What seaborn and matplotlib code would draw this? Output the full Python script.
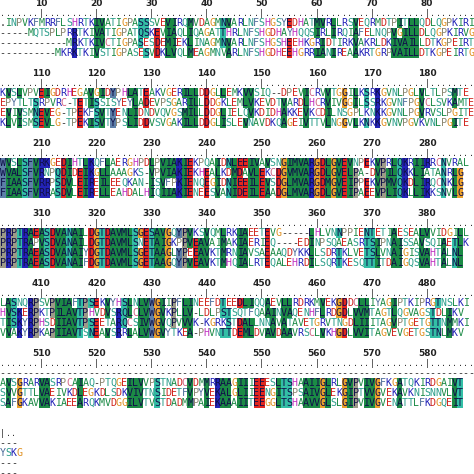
import numpy as np
import matplotlib
matplotlib.use("Agg")
import matplotlib.pyplot as plt
from matplotlib.colors import ListedColormap
import seaborn as sns

# ---- data: alignment blocks (4 sequences per block) ----
block1 = [".INPVKFMRRFLSHRTKIVATIGPASSSVEVIRQMVDAGMNVARLNFSHGSYEDHATMVRLLRSVEQRMDTPITLLQDLQGPKIRIG",
          "-----MQTSPLPRRTKIVATIGPATQSKEVIAQLIQAGATTHRLNFSHGDHAYHQQSIRLIRQIAFELNQPVGILLDLQGPKIRVG",
          "------------MRKTKIVCTIGPASESDEMIEKLINAGMNVARLNFSHGSHEEHKGRIDTIRKVAKRLDKIVAILLDTKGPEIRTG",
          "----------MKRKTKIVSTIGPASESVDKLVQLMEAGMNVARLNFSHGDHEEHGRRIANIREAAKRTGRPVAILLDTKGPEIRTG"]
block2 = ["KVSLVPVEIGDRHEGAVGIDYPHLATEAKVGERILLDDGLLEMKVVSIQ--DPEVICRVVTGGILKSRKGVNLPGLVLTLPSMTE",
          "EPYTLTSRPVRC-TETISSISYEYLADEVPSGARILLDDGKLEMLVKEVDTVARDLHCRVIVGGILSSRKGVNFPGVCLSVKAMTE",
          "EVIVSMNEVEG-TPEKFSVTYENLIDNDVQVGSMILLDDGLIELQVKDIDHAKKEVKCDILNSGPLKNKKGVNLPGVRVSLPGITE",
          "KLVISMSEVLG-TPEKISVTYPSLIDDVSVGAKILLDDGLISLEVNAVDKQAGEIVTTVLNGGVLKNKKGVNVPGVKVNLPGITE"]
block3 = ["WVSLSFVRKGEDIHTLKQFLAERGHPDLPVIAKIEKPQAIDNLEEIVAVSNGIMVARGDLGVEVNPEKVPRLQKRIIRRCNVRAL",
          "WVALSFVRNPQDIDEIKGLLAAAGKS-VPVIAKIEKHEALKDMDAVLEKCDGVMVARGDLGVELPA-DVPILQKKLIATANRLG",
          "FIAASFVRRPSDVLEIREILEEQKAN-ISVFPKIENQEGIDNIEEILEVSDGLMVARGDMGVEIPPEKVPMVQKDLIRQCNKLG",
          "FIAASFVRRASDVLEIRELLEAHDALHIQIIAKIENEESVANIDEILEAADGLMVARGDLGVEIPAEEVPLIQKLLIKKSNVLG"]
block4 = ["PRPTRAEASDVANAILDGTDAVMLSGESAVGQYPVKSVQMLRKIAEETEVG-----LHLVNNPPIENTETIAESEALVVIDGILL",
          "PRPTRAPVSDVANAILDGTDAVMLSNETAIGKPPVEAVAIMAKIAERIEQ----EDINPSQAEASRTSIPNAISSAVSQIAETLK",
          "PRPTRAEASDVANAIYDGTDAVMLSGETAAGLYPEEAVKTMRNIAVSAEAAQDYKKLLSDRTKLVETSLVNAIGISVAHTALNL",
          "PRPTRAEASDVANAIFDGTDAVMLSGETAAGQYPVEAVKTMHQIALRTEQALEHRDILSQRTKESQTTITDAIGQSVAHTALNL"]
block5 = ["LASNQRPSVPVIAFTPSEKVYHSLNLVWGIIPFLINEEFDTEEDLIQQAEVLLRDRKMVEKGDDCLLIYAGIPTKIPRGTNSLKI",
          "HVSKERPKTPILAVTPHVDVSRQLCLVWGVKPLLV-LDLPSTSQTFQAAINVAQENHFLRDGDLVVMTAGTLQGVAGSTDLIKV",
          "TISKYRPHSDIIAVTPSEETARQCSIVWGVQPVVVK-KGRKSTDALLNNAVATAVETGRVTNGDLIIITAGVPTGETGTTNMMKI",
          "VVAKYRPKAPIIAVTSNEAVSRRLALVWGVYTKEA-PHVNTTDEMLDVAVDAAVRSCLVKHGDLVVITAGVEVGETGSTNLMKV"]
block6 = ["-" * 86,
          "AVSGRARVASRPCAIAQ-PTQGEILVVPSTNADCVDMMRRAAGIIIEEESLTSHAAIIGLRLGVPVIVGFKGATQKIRDGAIVT",
          "SVVGTTLVAEIVKDLEGKDLSDKVIVTNSIDETFVPYVEKALGLIIEENGITSPSAIVGLEKGIPTVVGVEKAVKNISNNVLVT",
          "SAFGKAVVAKIAEEARQKMVDGGILVTVSTDADMMPAIEKAAAIITEEGGLTSHAAVVGLSLGIPVIVGVENATTLFKDGQEIT"]
block7 = ["---", "YSKG", "---", "---"]
blocks = [block1, block2, block3, block4, block5, block6, block7]
block_label_starts = [10, 110, 210, 310, 410, 510, None]

NCOL = 86
ROWS_PER_BLOCK = 7
LABEL_COL0 = 7

groups = {}
for aa in "ILVMA": groups[aa] = 1
for aa in "KR": groups[aa] = 2
for aa in "DE": groups[aa] = 3
for aa in "G": groups[aa] = 4
for aa in "NQST": groups[aa] = 5
for aa in "FWY": groups[aa] = 6
for aa in "P": groups[aa] = 7
for aa in "H": groups[aa] = 8
for aa in "C": groups[aa] = 9
bg_cols = ["#ffffff", "#1b8a45", "#2323b8", "#e3261f", "#eca22c", "#33bfa6",
           "#5d7fa8", "#9c9a88", "#e040d8", "#f08aa0"]
txt_cols = ["#222222", "#1b8a45", "#2323b8", "#d0221b", "#e09020", "#2a9e8a",
            "#4a6a98", "#8a8670", "#c030c0", "#d06080"]

nrows = ROWS_PER_BLOCK * len(blocks)
codes = np.zeros((nrows, NCOL), dtype=int)
chars = np.full((nrows, NCOL), "", dtype=object)
tcolor = np.full((nrows, NCOL), "#222222", dtype=object)

for b, blk in enumerate(blocks):
    r0 = b * ROWS_PER_BLOCK
    seqs = [s[:NCOL].ljust(NCOL) for s in blk]
    # ruler
    if block_label_starts[b] is not None:
        for c in range(NCOL):
            chars[r0 + 1, c] = "|" if (c - LABEL_COL0) % 10 == 0 else "."
    else:
        for c, ch in enumerate("|.."):
            chars[r0 + 1, c] = ch
    for c in range(NCOL):
        col = [s[c] for s in seqs]
        g = [groups.get(ch, 0) for ch in col]
        for i, ch in enumerate(col):
            rr = r0 + 2 + i
            chars[rr, c] = ch if ch != " " else ""
            gi = g[i]
            if gi and g.count(gi) >= 3:
                codes[rr, c] = gi
                tcolor[rr, c] = "#10104a"
            else:
                tcolor[rr, c] = txt_cols[gi] if ch not in "-." else "#333333"

fig = plt.figure(figsize=(4.74, 4.74), dpi=100)
H = nrows * (70 / 7)
top_px = -2
ax = fig.add_axes([0, 1 - (top_px + H) / 474, 1, H / 474])
sns.heatmap(codes, ax=ax, cmap=ListedColormap(bg_cols), vmin=-0.5, vmax=9.5,
            cbar=False, annot=chars, fmt="", xticklabels=False, yticklabels=False,
            annot_kws={"family": "DejaVu Sans Mono", "fontsize": 7.2, "fontweight": "normal"})
for t in ax.texts:
    x, y = t.get_position()
    c, r = int(x), int(y)
    t.set_color(tcolor[r, c])
    if r % ROWS_PER_BLOCK == 1:
        t.set_color("#333333")
        t.set_fontsize(6)

for b, start in enumerate(block_label_starts):
    if start is None:
        continue
    for k in range(9):
        c = LABEL_COL0 + 10 * k
        if c >= NCOL:
            break
        ax.text(c + 0.5, b * ROWS_PER_BLOCK + 0.5, str(start + 10 * k), ha="center",
                va="center", fontsize=6.5, fontweight="bold", color="#222222",
                family="DejaVu Sans")
ax.set_axis_off()
fig.savefig("out.png", dpi=100)
